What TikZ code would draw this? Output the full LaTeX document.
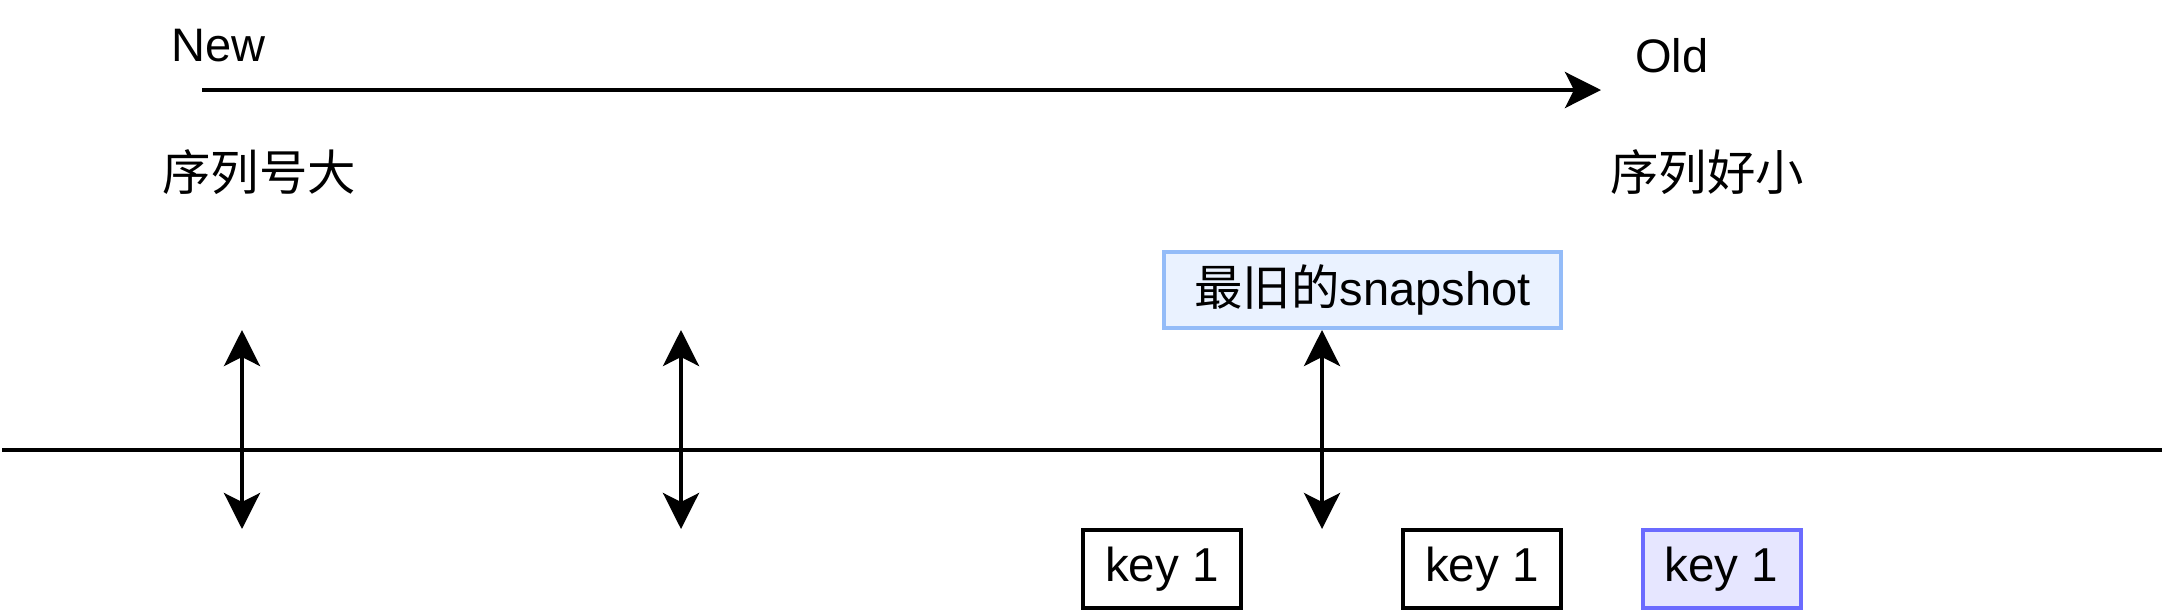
\documentclass[tikz,border=0pt]{standalone}
\usepackage{fontspec}
\setmainfont{Liberation Sans}
\newfontfamily\cjk{Noto Sans CJK SC}
\usetikzlibrary{arrows.meta}
\definecolor{snapfill}{HTML}{EAF2FF}
\definecolor{snapline}{HTML}{94BCF8}
\definecolor{keyfill}{HTML}{E6E6FF}
\definecolor{keyline}{HTML}{6B6BFF}
\begin{document}
\begin{tikzpicture}[x=0.5pt,y=-0.5pt,
  lbl/.style={inner sep=0pt, font=\fontsize{23.5}{28}\selectfont},
  cjklbl/.style={inner sep=0pt, font=\cjk\fontsize{24.2}{28}\selectfont},
  conn/.style={line width=2pt, -{Stealth[length=18pt,width=18pt,inset=4.5pt]}},
  dbl/.style={line width=2pt, {Stealth[length=18pt,width=18pt,inset=4.5pt]}-{Stealth[length=18pt,width=18pt,inset=4.5pt]}},
  keybox/.style={draw=black, fill=white, line width=2pt, minimum width=79pt, minimum height=39pt, inner sep=0pt, font=\fontsize{23.8}{28}\selectfont},
  snapbox/.style={draw=snapline, fill=snapfill, line width=2pt, minimum width=198.5pt, minimum height=38pt, inner sep=0pt, font=\fontsize{23.5}{28}\selectfont}
]
\useasboundingbox (0,0) rectangle (2168,612);

% top timeline
\coordinate (tstart) at (202,90);
\coordinate (tend) at (1601,90);
\draw[conn] (tstart) -- (tend);
\node[lbl, anchor=base west] (new) at (171,61) {New};
\node[lbl, anchor=base west] (old) at (1635,72) {Old};
\node[cjklbl] (big) at (259,172) {序列号大};
\node[cjklbl] (small) at (1707,172) {序列好小};

% main horizontal line
\coordinate (hl) at (2,450);
\coordinate (hr) at (2162,450);
\draw[line width=2pt] (hl) -- (hr);

% snapshot box
\node[snapbox] (snap) at (1362.5,290) {{\cjk\fontsize{24.2}{28}\selectfont 最旧的}snapshot};

% double arrows
\coordinate (a1t) at (242,330);
\coordinate (a1b) at (242,529);
\coordinate (a2t) at (681,330);
\coordinate (a2b) at (681,529);
\coordinate (a3b) at (1322,529);
\draw[dbl] (a1b) -- (a1t);
\draw[dbl] (a2b) -- (a2t);
\draw[dbl] (a3b) -- (a3b |- snap.south);

% key boxes
\node[keybox] (k1) at (1162,569) {key 1};
\node[keybox] (k2) at (1482,569) {key 1};
\node[keybox, draw=keyline, fill=keyfill] (k3) at (1721.5,569) {key 1};
\end{tikzpicture}
\end{document}
